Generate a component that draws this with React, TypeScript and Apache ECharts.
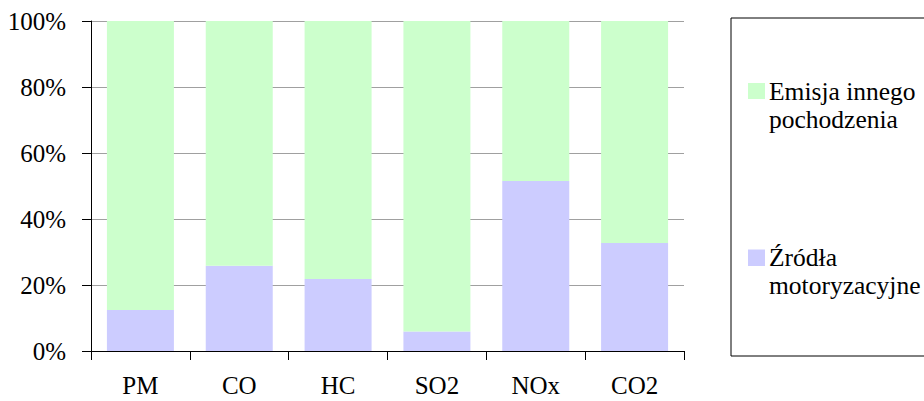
import React, { useEffect, useRef } from "react";
import * as echarts from "echarts";

const categories = ["PM", "CO", "HC", "SO2", "NOx", "CO2"];
const motorName = "Źródła motoryzacyjne";
const otherName = "Emisja innego pochodzenia";
const motorValues = [12.4, 25.8, 21.8, 5.9, 51.5, 32.7];
const otherValues = [87.6, 74.2, 78.2, 94.1, 48.5, 67.3];
const yTicks = [0, 20, 40, 60, 80, 100];

const FONT = "Liberation Serif, serif";
const GREEN = "#CCFFCC";
const PURPLE = "#CCCCFF";

export default function App() {
  const ref = useRef<HTMLDivElement>(null);
  useEffect(() => {
    if (!ref.current) return;
    const chart = echarts.init(ref.current, undefined, { renderer: "svg" });
    const legendText = (name: string) => {
      const parts = name.split(" ");
      if (name === otherName) return parts.slice(0, 2).join(" ") + "\n" + parts.slice(2).join(" ");
      return parts[0] + "\n" + parts.slice(1).join(" ");
    };
    chart.setOption({
      animation: false,
      backgroundColor: "#ffffff",
      textStyle: { fontFamily: FONT },
      grid: {
        left: 91,
        right: 240,
        top: 21,
        bottom: 50,
        containLabel: false,
        outerBoundsMode: "none",
      },
      xAxis: {
        type: "category",
        data: categories,
        boundaryGap: true,
        axisLine: { show: true, lineStyle: { color: "#000", width: 1 } },
        axisTick: { show: true, length: 9, lineStyle: { color: "#000" } },
        axisLabel: {
          color: "#000",
          fontSize: 25,
          fontFamily: FONT,
          margin: 22,
        },
        splitLine: { show: false },
      },
      yAxis: {
        type: "value",
        min: yTicks[0],
        max: yTicks[yTicks.length - 1],
        interval: 20,
        axisLine: { show: true, lineStyle: { color: "#000", width: 1 } },
        axisTick: { show: true, inside: false, length: 9, lineStyle: { color: "#000" } },
        axisLabel: {
          color: "#000",
          fontSize: 25,
          fontFamily: FONT,
          margin: 25,
          padding: [3, 0, 0, 0],
          formatter: "{value}%",
        },
        splitLine: { show: true, lineStyle: { color: "#a0a0a0", width: 1 } },
      },
      series: [
        {
          name: motorName,
          type: "bar",
          stack: "total",
          data: motorValues,
          barWidth: 67,
          itemStyle: { color: PURPLE },
        },
        {
          name: otherName,
          type: "bar",
          stack: "total",
          data: otherValues,
          barWidth: 67,
          itemStyle: { color: GREEN },
        },
      ],
      graphic: [
        {
          type: "rect",
          shape: { x: 731, y: 18, width: 210, height: 338 },
          style: { fill: "#fff", stroke: "#000", lineWidth: 1 },
        },
        {
          type: "rect",
          shape: { x: 748, y: 83, width: 17, height: 16 },
          style: { fill: GREEN },
        },
        {
          type: "text",
          x: 769,
          y: 77,
          style: {
            text: legendText(otherName),
            fontFamily: FONT,
            fontSize: 25.5,
            fill: "#000",
            lineHeight: 28,
            verticalAlign: "top",
            align: "left",
          },
        },
        {
          type: "rect",
          shape: { x: 748, y: 249.5, width: 17, height: 16.5 },
          style: { fill: PURPLE },
        },
        {
          type: "text",
          x: 769,
          y: 243.5,
          style: {
            text: legendText(motorName),
            fontFamily: FONT,
            fontSize: 25.5,
            fill: "#000",
            lineHeight: 28,
            verticalAlign: "top",
            align: "left",
          },
        },
      ],
    });
    return () => chart.dispose();
  }, []);
  return (
    <div
      ref={ref}
      style={{ position: "fixed", left: 0, top: 0, width: 924, height: 401 }}
    />
  );
}
